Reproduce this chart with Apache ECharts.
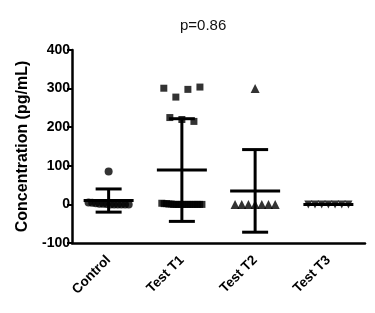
<!DOCTYPE html>
<html><head><meta charset="utf-8">
<script src="https://cdn.jsdelivr.net/npm/echarts@6/dist/echarts.min.js"></script>
<style>html,body{margin:0;padding:0;background:#fff}#c{width:375px;height:313px}</style>
</head><body><div id="c"></div>
<script>
const categories = ['Control', 'Test T1', 'Test T2', 'Test T3'];
const yTicks = [-100, 0, 100, 200, 300, 400];
const controlValues = [85, 5, 4, 3, 2, 2, 1, 0, 0, 0, 0, 0, 0];
const t1Values = [301, 278, 298, 304, 225, 220, 215,
  3, 2, 2, 1, 1, 0, 0, 0, 0, 0, 0, 0, 0, 0, 0, 0, 0, 0];
const t2Values = [300, 0, 0, 0, 0, 0, 0, 0];
const t3Values = [0, 0, 0, 0, 0, 0, 0];
const means = [10, 89, 35, 0];
const sds = [30, 133, 107, 0];
const groups = [controlValues, t1Values, t2Values, t3Values];

const catPx = 73; // approx pixel width of a category
function spread(values, ci) {
  const idx = values.map((v, i) => i);
  const clusters = [];
  idx.forEach(i => {
    const v = values[i];
    let c = clusters.find(cl => cl.some(j => Math.abs(values[j] - v) <= 30));
    if (c) c.push(i); else clusters.push([i]);
  });
  const out = [];
  clusters.forEach(cl => {
    const n = cl.length;
    const sp = n > 1 ? Math.min(12, 40 / (n - 1)) : 0;
    cl.forEach((j, k) => {
      const off = (k - (n - 1) / 2) * sp / catPx;
      out.push([ci + off, values[j]]);
    });
  });
  return out;
}

const symbols = ['circle', 'rect', 'triangle', 'triangle'];
const sizes = [8, 7, 9, 8];
const rotates = [0, 0, 0, 180];
const scatterSeries = groups.map((g, i) => ({
  type: 'scatter', xAxisIndex: 1, yAxisIndex: 0,
  data: spread(g, i), symbol: symbols[i], symbolSize: sizes[i], symbolRotate: rotates[i],
  itemStyle: { color: '#000' }, z: 2, silent: true
}));

const errData = means.map((m, i) => [i, m, sds[i]]);

const chart = echarts.init(document.getElementById('c'), null, { renderer: 'canvas' });
chart.setOption({
  animation: false,
  title: { text: 'p=0.86', left: 175, top: 13, textStyle: { fontSize: 15, fontWeight: 'normal', color: '#111', fontFamily: 'Liberation Sans' } },
  grid: { left: 72, right: 10, top: 50, bottom: 70 },
  xAxis: [{
    type: 'category', data: categories, boundaryGap: true,
    axisLine: { onZero: false, lineStyle: { color: '#000', width: 2.5 } },
    axisTick: { alignWithLabel: true, length: 5, lineStyle: { color: '#000', width: 2 } },
    axisLabel: { rotate: 45, color: '#000', fontWeight: 'bold', fontSize: 13.5, fontFamily: 'Liberation Sans', margin: 15 },
    splitLine: { show: false }
  }, {
    type: 'value', min: -0.5, max: 3.5, show: false
  }],
  yAxis: {
    type: 'value', min: -100, max: 400, interval: 100,
    name: 'Concentration (pg/mL)', nameLocation: 'middle', nameGap: 38,
    nameTextStyle: { color: '#000', fontWeight: 'bold', fontSize: 16, fontFamily: 'Liberation Sans' },
    axisLine: { show: true, onZero: false, lineStyle: { color: '#000', width: 2.5 } },
    axisTick: { show: true, length: 5, lineStyle: { color: '#000', width: 2 } },
    axisLabel: { color: '#000', fontWeight: 'bold', fontSize: 14, fontFamily: 'Liberation Sans', margin: 2,
      formatter: v => yTicks.includes(v) ? String(v) : '' },
    splitLine: { show: false }
  },
  series: scatterSeries.concat([{
    type: 'custom', xAxisIndex: 1, yAxisIndex: 0, data: errData, z: 5, silent: true,
    renderItem: function (params, api) {
      const x = api.value(0), m = api.value(1), s = api.value(2);
      const pm = api.coord([x, m]);
      const pu = api.coord([x, m + s]);
      const pl = api.coord([x, m - s]);
      const st = { stroke: '#000', lineWidth: 3 };
      const mw = 25, cw = 13;
      return { type: 'group', children: [
        { type: 'line', shape: { x1: pu[0], y1: pu[1], x2: pl[0], y2: pl[1] }, style: st },
        { type: 'line', shape: { x1: pm[0] - mw, y1: pm[1], x2: pm[0] + mw, y2: pm[1] }, style: st },
        { type: 'line', shape: { x1: pu[0] - cw, y1: pu[1], x2: pu[0] + cw, y2: pu[1] }, style: st },
        { type: 'line', shape: { x1: pl[0] - cw, y1: pl[1], x2: pl[0] + cw, y2: pl[1] }, style: st }
      ] };
    }
  }])
});
</script></body></html>
